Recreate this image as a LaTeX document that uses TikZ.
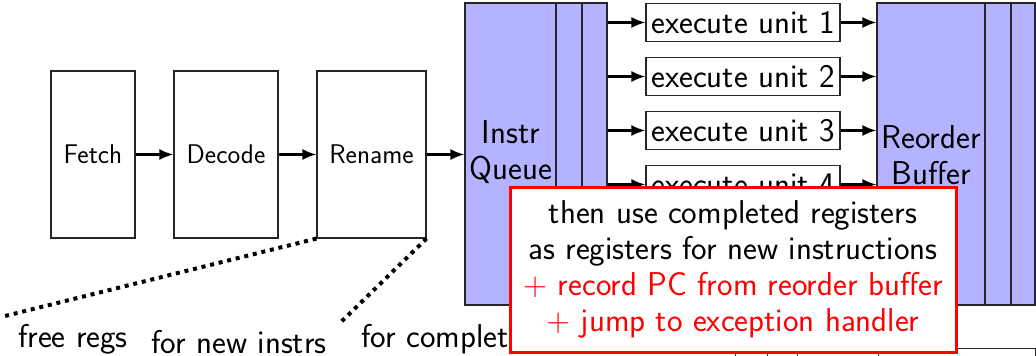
\documentclass[tikz,border=0pt]{standalone}
\usetikzlibrary{arrows.meta}
\definecolor{qblue}{RGB}{179,179,255}
\begin{document}
\begin{tikzpicture}[x=1pt,y=-1pt,
  box/.style={draw=black!85, line width=1.1pt, rectangle, inner sep=0pt},
  stage/.style={box, minimum height=167pt, font=\fontsize{27}{30}\selectfont\sffamily},
  bigbox/.style={box, fill=qblue, minimum height=302pt},
  unitbox/.style={box, fill=white, minimum width=194pt, minimum height=38pt, font=\fontsize{33}{36}\selectfont\sffamily},
  lbl/.style={inner sep=0pt, align=center, font=\fontsize{33}{36}\selectfont\sffamily},
  arr/.style={-{Latex[length=14pt,width=11pt]}, line width=2.2pt},
  dots/.style={line width=4pt, dash pattern=on 4pt off 4.8pt},
  callout/.style={draw=red, line width=3pt, fill=white, minimum width=446pt, minimum height=165pt, inner sep=0pt, align=center, font=\fontsize{33}{36}\selectfont\sffamily}
]
\clip (0,0) rectangle (1036,356);
% pipeline stages
\node[stage, minimum width=84pt]  (fetch)  at (93,154.5)  {Fetch};
\node[stage, minimum width=104pt] (decode) at (226,154.5) {Decode};
\node[stage, minimum width=109pt] (rename) at (371.5,154.5) {Rename};
% instruction queue
\node[bigbox, minimum width=142pt] (queue) at (536,154) {};
\draw[line width=1.1pt, black!85] (556,3) -- (556,305) (582,3) -- (582,305);
\node[lbl] (qlbl) at (511,152) {Instr\\Queue};
% execute units
\node[unitbox] (eu1) at (743,22.5)  {execute unit 1};
\node[unitbox] (eu2) at (743,76.5)  {execute unit 2};
\node[unitbox] (eu3) at (743,130.5) {execute unit 3};
\node[unitbox] (eu4) at (743,184.5) {execute unit 4};
% reorder buffer
\node[bigbox, minimum width=158pt] (rob) at (956,154) {};
\draw[line width=1.1pt, black!85] (985,3) -- (985,305) (1011,3) -- (1011,305);
\node[lbl] (rlbl) at (931,155) {Reorder\\Buffer};
% arrows
\draw[arr] (fetch) -- (decode);
\draw[arr] (decode) -- (rename);
\draw[arr] (rename.east) -- (queue.west |- rename.east);
\foreach \u in {eu1,eu2,eu3,eu4}{
  \draw[arr] (queue.east |- \u) -- (\u.west);
  \draw[arr] (\u.east) -- (rob.west |- \u);
}
% dotted zoom lines
\coordinate (d1) at (5,316);
\coordinate (d2) at (341,322);
\draw[dots] (rename.south west) -- (d1);
\draw[dots] (rename.south east) -- (d2);
% bottom labels
\node[lbl] (free) at (73,339) {free regs};
\node[lbl] (newi) at (239,342) {for new instrs};
\node[lbl, anchor=west] (compl) at (361,339) {for completed};
% partially visible boxes at bottom right
\node[box, minimum width=32pt, minimum height=40pt, anchor=north west] (b1) at (735,348) {};
\node[box, minimum width=30pt, minimum height=40pt, anchor=north west] (b2) at (767,348) {};
\node[box, minimum width=81pt, minimum height=40pt, anchor=north west] (b3) at (797,348) {};
\node[box, minimum width=157pt, minimum height=40pt, anchor=north west] (b4) at (878,348) {};
% callout
\node[callout] (note) at (733,269.5) {then use completed registers\\as registers for new instructions\\\textcolor{red}{+ record PC from reorder buffer}\\\textcolor{red}{+ jump to exception handler}};
\end{tikzpicture}
\end{document}
